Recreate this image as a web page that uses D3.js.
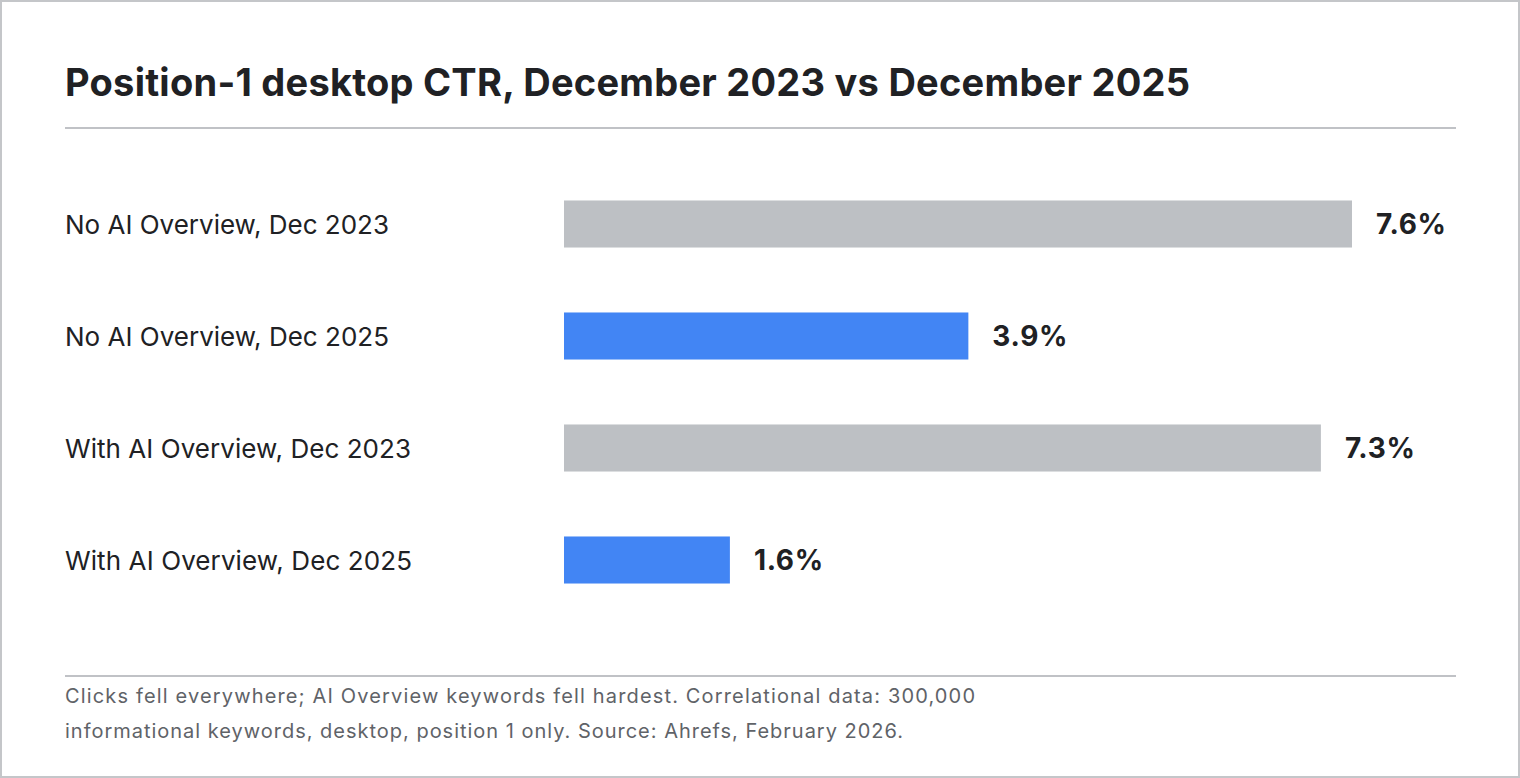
<!DOCTYPE html>
<html><head><meta charset="utf-8">
<script src="https://cdn.jsdelivr.net/npm/d3@7"></script>
<style>html,body{margin:0;padding:0;background:#fff;}svg{display:block;}</style>
</head><body>
<svg id="chart" width="1520" height="778"></svg>
<script>
const categories = ["No AI Overview, Dec 2023","No AI Overview, Dec 2025","With AI Overview, Dec 2023","With AI Overview, Dec 2025"];
const values = [7.6, 3.9, 7.3, 1.6];
const years = ["2023","2025","2023","2025"];
const valueLabels = ["7.6%","3.9%","7.3%","1.6%"];
const titleText = "Position-1 desktop CTR, December 2023 vs December 2025";
const footerLines = ["Clicks fell everywhere; AI Overview keywords fell hardest. Correlational data: 300,000","informational keywords, desktop, position 1 only. Source: Ahrefs, February 2026."];

const FONT = "Inter, 'Noto Sans', sans-serif";
const svg = d3.select("#chart");
svg.append("rect").attr("x",1).attr("y",1).attr("width",1518).attr("height",776)
  .attr("fill","#fff").attr("stroke","#c4c6c9").attr("stroke-width",2);

function fit(sel, target){
  const n = sel.text().length;
  const w = sel.node().getComputedTextLength();
  sel.attr("letter-spacing", ((target - w)/(n-1)).toFixed(3));
}

const title = svg.append("text").attr("x",65).attr("y",96).text(titleText)
  .attr("font-family",FONT).attr("font-weight",700).attr("font-size",38).attr("fill","#202124");
fit(title, 1125);

svg.append("line").attr("x1",65).attr("x2",1456).attr("y1",128).attr("y2",128)
  .attr("stroke","#c0c2c6").attr("stroke-width",2);

const x = d3.scaleLinear().domain([0, d3.max(values)]).range([564, 1352]);
const y = d3.scaleBand().domain(categories).range([168, 616]).paddingInner(0.58).paddingOuter(0.29);
const color = d3.scaleOrdinal().domain(["2023","2025"]).range(["#bdc0c4","#4285f4"]);

const g = svg.append("g");
g.selectAll("rect.bar").data(values).join("rect").attr("class","bar")
  .attr("x", x(0)).attr("y",(d,i)=>y(categories[i]))
  .attr("width", d=>x(d)-x(0)).attr("height", y.bandwidth())
  .attr("fill",(d,i)=>color(years[i]));

g.selectAll("text.cat").data(categories).join("text").attr("class","cat")
  .attr("x",65).attr("y",d=>y(d)+y.bandwidth()/2+9.5).text(d=>d)
  .attr("font-family",FONT).attr("font-size",26).attr("fill","#202124")
  .each(function(d,i){ fit(d3.select(this), [324,324,346,347][i]); });

const vals = g.selectAll("text.val").data(values).join("text").attr("class","val")
  .attr("x",d=>x(d)+24).attr("y",(d,i)=>y(categories[i])+y.bandwidth()/2+10)
  .text((d,i)=>valueLabels[i])
  .attr("font-family",FONT).attr("font-weight",700).attr("font-size",28).attr("fill","#202124");
fit(d3.select(vals.nodes()[0]), 70);
vals.attr("letter-spacing", d3.select(vals.nodes()[0]).attr("letter-spacing"));

svg.append("line").attr("x1",65).attr("x2",1456).attr("y1",676).attr("y2",676)
  .attr("stroke","#c0c2c6").attr("stroke-width",2);

svg.selectAll("text.foot").data(footerLines).join("text").attr("class","foot")
  .attr("x",65).attr("y",(d,i)=>703+i*35).text(d=>d)
  .attr("font-family",FONT).attr("font-size",20).attr("fill","#5f6368")
  .each(function(d,i){ fit(d3.select(this), [910,838][i]); });
</script>
</body></html>
